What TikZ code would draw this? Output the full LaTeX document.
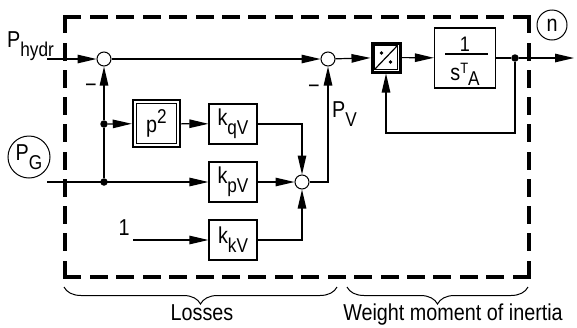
\documentclass[tikz,border=0pt]{standalone}
\usepackage{fontspec}
\setmainfont{Liberation Sans}[FakeStretch=0.86]
\usetikzlibrary{arrows.meta,calc,decorations.pathreplacing}
\newcommand\lowsub[1]{\raisebox{-9pt}{\fontsize{20}{22}\selectfont #1}}
\newcommand\basefont{\fontsize{23}{26}\selectfont}
\begin{document}
\begin{tikzpicture}[x=1pt,y=-1pt,
  ln/.style={line width=1.2pt},
  arr/.style={line width=1.2pt,-{Triangle[length=19pt,width=8.5pt]}},
  blk/.style={draw,line width=1.2pt,minimum width=48pt,minimum height=40pt,inner sep=0pt,font=\basefont},
  sumn/.style={circle,draw,line width=1pt,minimum size=14pt,inner sep=0pt,fill=white},
  jdot/.style={circle,fill,minimum size=7.5pt,inner sep=0pt},
  txt/.style={inner sep=0pt,font=\basefont},
  frame/.style={line width=3.3pt,line cap=rect},
  every node/.style={font=\basefont}]
\useasboundingbox (0,0) rectangle (577,327);

% dashed frame
\draw[frame,dash pattern=on 14.7pt off 11.73pt] (65,17) -- (529,17);
\draw[frame,dash pattern=on 14.7pt off 11.73pt] (65,277) -- (529,277);
\draw[frame,dash pattern=on 14.7pt off 12.56pt] (65,17) -- (65,277);
\draw[frame,dash pattern=on 14.7pt off 12.56pt] (529,17) -- (529,277);

% nodes
\node[sumn] (s1) at (104,59) {};
\node[sumn] (s3) at (328,59) {};
\node[sumn] (s2) at (302,182) {};
\node[jdot] (d1) at (104,124) {};
\node[jdot] (d2) at (104,182) {};
\node[draw,line width=2.5pt,minimum width=47pt,minimum height=47pt,inner sep=0pt] (p2) at (156.5,123.5) {p\raisebox{9pt}{\fontsize{20}{22}\selectfont 2}};
\draw[line width=1pt] ($(p2.north west)+(4.5pt,-4.5pt)$) rectangle ($(p2.south east)+(-4.5pt,4.5pt)$);
\node[blk] (kq) at (233,124) {k\lowsub{qV}};
\node[blk] (kp) at (233,182) {k\lowsub{pV}};
\node[blk] (kk) at (233,240) {k\lowsub{kV}};

\node[draw,line width=3pt,minimum width=28pt,minimum height=29pt,inner sep=0pt] (dv) at (386,57.5) {};
\draw[line width=1pt] ($(dv.north west)+(4pt,-4pt)$) rectangle ($(dv.south east)+(-4pt,4pt)$);
\draw[line width=1.2pt] ($(dv.south west)+(4pt,4pt)$) -- ($(dv.north east)+(-4pt,-4pt)$);
\fill ($(dv.center)+(-4.5pt,4.5pt)$) circle (1.8pt);
\fill ($(dv.center)+(4.5pt,-4.5pt)$) circle (1.8pt);

\node[blk,minimum width=61pt,minimum height=60pt] (ta) at (465,58) {};
\node[txt,font=\fontsize{21}{24}\selectfont] (one) at (465,44.5) {1};
\draw[line width=1.2pt] (445,54) -- (488,54);
\node[txt,anchor=base] (sta) at (465,80.5) {s\raisebox{7pt}{\fontsize{15}{17}\selectfont T}\raisebox{-5pt}{\fontsize{20}{22}\selectfont A}};

\node[jdot] (d3) at (515,58) {};
\coordinate (out) at (574,58);
\coordinate (fb) at (386,133);

\node[circle,draw,line width=1pt,minimum size=30pt,inner sep=0pt] (n) at (552,25) {n};
\node[circle,draw,line width=1pt,minimum size=42pt,inner sep=0pt] (pg) at (29,157) {P\lowsub{G}};

\coordinate (hin) at (47,59);
\coordinate (gin) at (47,182);
\coordinate (oin) at (133,240);
\node[txt,anchor=base west] (lh) at (7,47) {P\lowsub{hydr}};
\node[txt,anchor=base west] (lv) at (332,117) {P\lowsub{V}};
\node[txt] (one2) at (124,228) {1};
\node[txt] (m1) at (91,88) {−};
\node[txt] (m3) at (314,89) {−};

% connectors
\draw[arr] (hin) -- (s1);
\draw[arr] (s1) -- (s3);
\draw[ln] (d2) -- (d1);
\draw[arr] (d1) -- (s1);
\draw[arr] (d1) -- (p2);
\draw[arr] (p2) -- (kq);
\draw[arr] (gin) -- (kp);
\draw[arr] (oin) -- (kk);
\draw[arr] (kq.east) -| (s2);
\draw[arr] (kk.east) -| (s2);
\draw[arr] (kp) -- (s2);
\draw[arr] (s2) -| (s3);
\draw[arr] (s3) -- (dv);
\draw[arr] (dv) -- (ta);
\draw[ln] (ta) -- (d3);
\draw[arr] (d3) -- (out);
\draw[arr] (d3) |- (fb) -- (dv);

% braces
\draw[line width=1pt,decorate,decoration={brace,mirror,amplitude=17pt}] (64,287) -- (337,287);
\draw[line width=1pt,decorate,decoration={brace,mirror,amplitude=17pt}] (347,287) -- (528,287);
\node[txt,anchor=base] (los) at (202,320) {Losses};
\node[txt,anchor=base] (wmi) at (453,320) {Weight moment of inertia};
\end{tikzpicture}
\end{document}
